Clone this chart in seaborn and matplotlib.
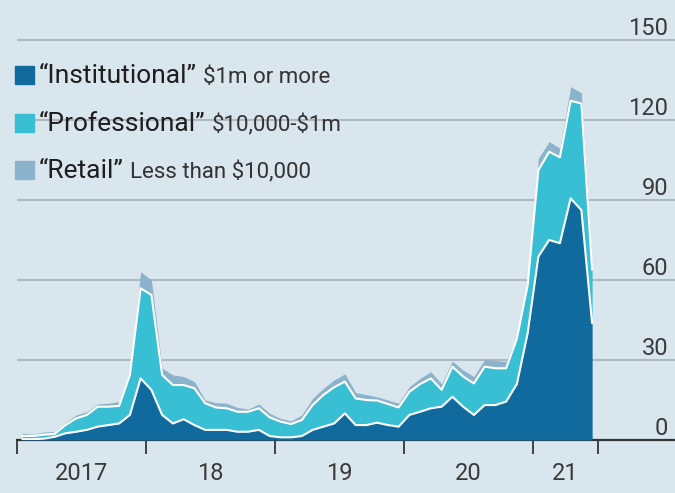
import numpy as np
import pandas as pd
import matplotlib
matplotlib.use("Agg")
import matplotlib.pyplot as plt
import seaborn as sns
from matplotlib.patches import Rectangle

# monthly volumes, Jan 2017 - Jun 2021 ($bn)
months = pd.date_range("2017-01-01", "2021-06-01", freq="MS")
institutional = [0.3, 0.3, 0.5, 1.2, 2.5, 3.1, 3.8, 5.0, 5.6, 6.2, 9.4, 23.1,
                 18.8, 9.4, 6.2, 7.8, 5.6, 3.8, 3.8, 3.8, 3.1, 3.1, 3.8, 1.5,
                 1.0, 1.0, 1.5, 3.8, 5.0, 6.2, 10.0, 5.6, 5.6, 6.5, 5.6, 5.0,
                 9.4, 10.6, 11.9, 12.5, 16.2, 12.5, 9.4, 13.1, 13.1, 14.4, 21.0, 40.0,
                 68.8, 75.0, 73.8, 90.6, 86.2, 43.8]
professional = [1.2, 1.2, 1.5, 1.1, 3.1, 5.0, 5.6, 7.5, 6.9, 6.6, 15.0, 33.8,
                35.6, 15.0, 14.4, 12.8, 13.8, 10.0, 8.4, 8.1, 7.5, 7.5, 8.1, 7.0,
                5.9, 5.0, 6.0, 9.3, 11.9, 13.6, 11.9, 10.0, 9.4, 8.3, 7.9, 7.2,
                8.7, 10.4, 11.2, 6.3, 11.3, 11.3, 11.8, 14.4, 13.8, 12.5, 17.0, 18.0,
                32.4, 33.1, 32.2, 36.6, 40.0, 20.0]
retail = [1.0, 0.7, 1.0, 0.9, 0.9, 1.3, 1.2, 1.0, 1.3, 1.6, 1.8, 6.2,
          5.6, 2.5, 3.8, 3.2, 2.5, 1.2, 1.8, 1.9, 1.6, 1.0, 1.6, 1.5,
          1.2, 1.2, 1.9, 2.5, 2.5, 2.7, 2.9, 2.2, 2.0, 1.4, 1.5, 1.6,
          1.9, 2.1, 2.5, 2.2, 2.1, 2.4, 2.6, 2.7, 2.9, 2.5, 1.0, 1.0,
          4.4, 3.8, 3.4, 5.3, 4.0, 1.2]

year_labels = ["2017", "18", "19", "20", "21"]
y_ticks = [0, 30, 60, 90, 120, 150]

legend_items = [("\u201cInstitutional\u201d", r"\$1m or more"),
                ("\u201cProfessional\u201d", r"\$10,000-\$1m"),
                ("\u201cRetail\u201d", r"Less than \$10,000")]

c_inst = "#116a9e"
c_prof = "#38bfd3"
c_retail = "#8bb3cc"
bg = "#d9e6ee"

df = pd.DataFrame({"month": months, "institutional": institutional,
                   "professional": professional, "retail": retail})
# x in months since Jan 2017, points drawn mid-month
df["x"] = np.arange(len(df)) + 0.5
df["inst_top"] = df["institutional"]
df["prof_top"] = df["inst_top"] + df["professional"]
df["total"] = df["prof_top"] + df["retail"]

sns.set_theme(style="white", rc={"axes.facecolor": bg, "figure.facecolor": bg})
plt.rcParams["font.family"] = ["Roboto", "DejaVu Sans"]

fig = plt.figure(figsize=(6.75, 4.93), dpi=100)
ax = fig.add_axes([17 / 675, 53 / 493, 658 / 675, 440 / 493])

ax.fill_between(df["x"], 0, df["inst_top"], color=c_inst, lw=0, zorder=3)
ax.fill_between(df["x"], df["inst_top"], df["prof_top"], color=c_prof, lw=0, zorder=3)
ax.fill_between(df["x"], df["prof_top"], df["total"], color=c_retail, lw=0, zorder=3)
sns.lineplot(data=df, x="x", y="inst_top", color="white", lw=1.5, ax=ax, zorder=4)
sns.lineplot(data=df, x="x", y="prof_top", color="white", lw=1.5, ax=ax, zorder=4)

ax.set_xlim(0, 658 / 10.75)
ax.set_ylim(0, 165)

# y axis: labels on the right sitting on the gridlines
ax.yaxis.tick_right()
ax.set_yticks(y_ticks)
ax.set_yticklabels([str(v) for v in y_ticks])
ax.tick_params(axis="y", length=0, pad=-5, labelsize=17, labelcolor="#3a3a3a")
for lab in ax.get_yticklabels():
    lab.set_ha("right")
    lab.set_va("bottom")
ax.yaxis.grid(True, color="#aab4bc", lw=1.3, zorder=1)
ax.set_axisbelow(True)

# x axis: ticks at year starts (and mid-2021), labels between
ax.set_xticks([0, 12, 24, 36, 48, 54])
ax.set_xticklabels([])
ax.set_xticks([6, 18, 30, 42, 51], minor=True)
ax.set_xticklabels(year_labels, minor=True)
ax.tick_params(axis="x", which="major", direction="out", length=10, width=1.3,
               color="#333333", bottom=True)
ax.tick_params(axis="x", which="minor", length=0, pad=16, labelsize=17,
               labelcolor="#3a3a3a")

for s in ["top", "left", "right"]:
    ax.spines[s].set_visible(False)
ax.spines["bottom"].set_color("#333333")
ax.spines["bottom"].set_linewidth(1.6)
ax.set_xlabel("")
ax.set_ylabel("")

# legend built by hand: coloured square, quoted name, smaller size band
renderer = fig.canvas.get_renderer()
sq_colors = [c_inst, c_prof, c_retail]
baselines = [83, 131, 178]
for (name, band), col, yb in zip(legend_items, sq_colors, baselines):
    fig.patches.append(Rectangle((15 / 675, 1 - (yb + 1) / 493), 19 / 675, 18 / 493,
                                 transform=fig.transFigure, color=col))
    t = fig.text(39 / 675, 1 - yb / 493, name, fontsize=19, color="#1e1e1e",
                 va="baseline", ha="left")
    bb = t.get_window_extent(renderer)
    fig.text((bb.x1 + 6) / 675, 1 - yb / 493, band, fontsize=16, color="#333333",
             va="baseline", ha="left")

fig.savefig("out.png", dpi=100, facecolor=bg)
